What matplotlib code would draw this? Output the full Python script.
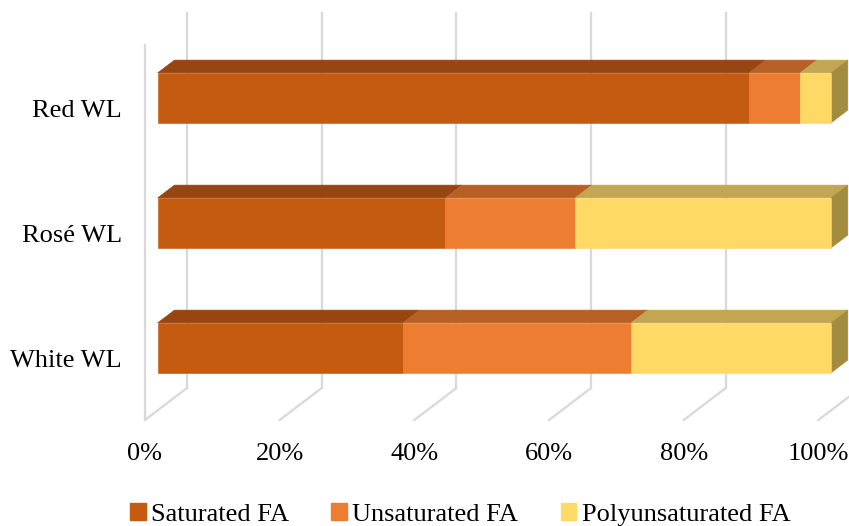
import matplotlib.pyplot as plt
from matplotlib.patches import Polygon, Patch

# data (percent of total fatty acids)
categories = ["Red WL", "Rosé WL", "White WL"]
saturated = [87.8, 42.7, 36.4]
unsaturated = [7.6, 19.3, 33.9]
polyunsaturated = [4.6, 38.0, 29.7]
series_names = ["Saturated FA", "Unsaturated FA", "Polyunsaturated FA"]
ticks = [0, 20, 40, 60, 80, 100]

front_colors = ["#C55A11", "#ED7D31", "#FFD966"]
top_colors = ["#974511", "#B66025", "#C2A652"]
side_color = "#A38B40"
grid_color = "#D9D9D9"

plt.rcParams['font.family'] = ['Liberation Serif', 'DejaVu Serif']
fs = 19

# fake 3D: oblique shift for full depth (x in %, y in category units)
DX, DY = 6.24, -0.256
d0, d1 = 0.3, 0.7   # front / back depth of the bars
h = 0.4             # bar thickness


def P(x, y, d):
    return (x + d * DX, y + d * DY)


fig = plt.figure(figsize=(8.49, 5.26), dpi=100)
ax = fig.add_axes([0, 0, 1, 1])
ax.set_xlim(-21.53, 104.54)
ax.set_ylim(3.348, -0.86)
ax.axis('off')

# back wall gridlines + floor lines
for t in ticks:
    (x0, y0), (x1, y1) = P(t, -0.5, 1), P(t, 2.5, 1)
    ax.plot([x0, x1], [y0, y1], color=grid_color, lw=1.6, zorder=1)
    (x0, y0), (x1, y1) = P(t, 2.5, 0), P(t, 2.5, 1)
    ax.plot([x0, x1], [y0, y1], color=grid_color, lw=1.6, zorder=1)
(x0, y0), (x1, y1) = P(0, -0.5, 0), P(0, 2.5, 0)
ax.plot([x0, x1], [y0, y1], color=grid_color, lw=1.6, zorder=1)

# stacked 100% bars
series = [saturated, unsaturated, polyunsaturated]
for i, cat in enumerate(categories):
    total = sum(s[i] for s in series)
    left = 0
    yt, yb = i - h / 2, i + h / 2
    for k, s in enumerate(series):
        w = s[i] / total * 100
        right = left + w
        top = [P(left, yt, d0), P(right, yt, d0), P(right, yt, d1), P(left, yt, d1)]
        front = [P(left, yt, d0), P(right, yt, d0), P(right, yb, d0), P(left, yb, d0)]
        ax.add_patch(Polygon(top, closed=True, facecolor=top_colors[k],
                             edgecolor=top_colors[k], lw=0.4, zorder=2))
        ax.add_patch(Polygon(front, closed=True, facecolor=front_colors[k],
                             edgecolor=front_colors[k], lw=0.4, zorder=3))
        left = right
    side = [P(100, yt, d0), P(100, yb, d0), P(100, yb, d1), P(100, yt, d1)]
    ax.add_patch(Polygon(side, closed=True, facecolor=side_color,
                         edgecolor=side_color, lw=0.4, zorder=2))
    ax.text(-3.4, i + 0.03, cat, ha='right', va='center', fontsize=fs, color='black')

# x tick labels along the front floor edge
for t in ticks:
    ax.text(t, 2.77, f"{t}%", ha='center', va='center', fontsize=fs, color='black')

handles = [Patch(facecolor=c, edgecolor=c) for c in front_colors]
ax.legend(handles, series_names, loc='center', bbox_to_anchor=(0.542, 0.022),
          ncol=3, frameon=False, fontsize=fs, handlelength=0.6, handleheight=0.6,
          handletextpad=0.2, columnspacing=1.6, borderaxespad=0)

fig.savefig("out.png", dpi=100)
